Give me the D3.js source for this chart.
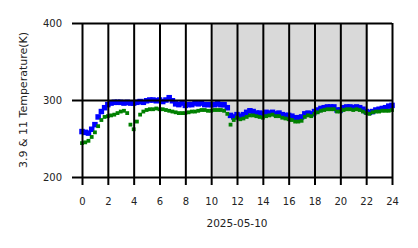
<!DOCTYPE html>
<html><head><meta charset="utf-8">
<script src="https://cdn.jsdelivr.net/npm/d3@7"></script>
<style>body{margin:0;background:#fff}svg{display:block}text{font-family:"DejaVu Sans",sans-serif}</style>
</head><body><div id="chart"></div>
<script>
const xTicks = [0,2,4,6,8,10,12,14,16,18,20,22,24];
const yTicks = [200,300,400];
const dateLabel = "2025-05-10";
const yLabel = "3.9 & 11 Temperature(K)";
const shade = [10.15, 22.15];
const step = 0.25;
const blue = [259,258,257,262,268,278,285,290,294,296,297,297,297,296,297,296,296,297,298,297,
299,300,300,299,300,298,300,303,299,295,294,296,293,294,294,296,295,296,294,294,
294,294,295,294,294,290,280,278,281,279,281,284,286,285,283,283,282,284,283,284,
282,283,281,280,280,279,277,277,278,282,283,282,285,287,289,290,291,291,291,287,
287,290,291,291,290,291,290,288,285,284,285,287,288,289,290,292,293];
const green = [244,245,247,252,258,266,274,278,279,280,281,283,285,286,283,268,262,272,281,285,
287,288,288,289,288,288,287,286,285,284,283,283,283,284,285,285,286,287,287,286,
286,287,287,287,286,282,268,274,277,275,276,278,280,280,279,278,277,279,280,281,
279,279,277,276,275,274,272,272,273,278,280,279,282,284,286,287,288,288,288,285,
285,287,288,288,287,288,287,285,283,282,284,285,285,286,286,286,287];

const W=418,H=248;
const x=d3.scaleLinear().domain([0,24]).range([82,392]);
const y=d3.scaleLinear().domain([200,400]).range([177,23]);
const svg=d3.select("#chart").append("svg").attr("width",W).attr("height",H);

svg.append("rect").attr("x",x(shade[0])).attr("y",y(400)).attr("width",x(shade[1])-x(shade[0]))
  .attr("height",y(200)-y(400)).attr("fill","#d9d9d9");

function pts(arr,color,s){
  svg.append("g").selectAll("rect").data(arr).join("rect")
    .attr("x",(d,i)=>x(i*step)-s/2).attr("y",d=>y(d)-s/2)
    .attr("width",s).attr("height",s).attr("fill",color);
}
pts(blue,"#0000ff",5.5);
pts(green,"#008000",3.8);

const gx=svg.append("g").attr("transform",`translate(0,${y(200)})`)
  .call(d3.axisBottom(x).tickValues(xTicks).tickSize(-(y(200)-y(400))).tickSizeOuter(0).tickPadding(0));
gx.select(".domain").remove();
gx.selectAll(".tick line").attr("stroke","#000").attr("stroke-width",2);
gx.selectAll(".tick").append("line").attr("y1",0).attr("y2",8).attr("stroke","#000").attr("stroke-width",2);
gx.selectAll(".tick text").attr("y",28).attr("dy",0).attr("font-size",10).attr("fill","#222").attr("font-family","DejaVu Sans");

const gy=svg.append("g").attr("transform",`translate(${x(0)},0)`)
  .call(d3.axisLeft(y).tickValues(yTicks).tickSize(-(x(24)-x(0))).tickSizeOuter(0).tickPadding(0));
gy.select(".domain").remove();
gy.selectAll(".tick line").attr("stroke","#000").attr("stroke-width",2);
gy.selectAll(".tick").append("line").attr("x1",0).attr("x2",-10).attr("stroke","#000").attr("stroke-width",2);
gy.selectAll(".tick text").attr("x",-20).attr("dy","0.35em").attr("font-size",10).attr("fill","#222").attr("font-family","DejaVu Sans");

svg.append("text").attr("x",(x(0)+x(24))/2).attr("y",227).attr("text-anchor","middle")
  .attr("font-size",10.5).attr("fill","#222").text(dateLabel);
svg.append("text").attr("transform",`translate(27,${(y(200)+y(400))/2}) rotate(-90)`)
  .attr("text-anchor","middle").attr("font-size",11).attr("fill","#222").text(yLabel);
</script></body></html>
